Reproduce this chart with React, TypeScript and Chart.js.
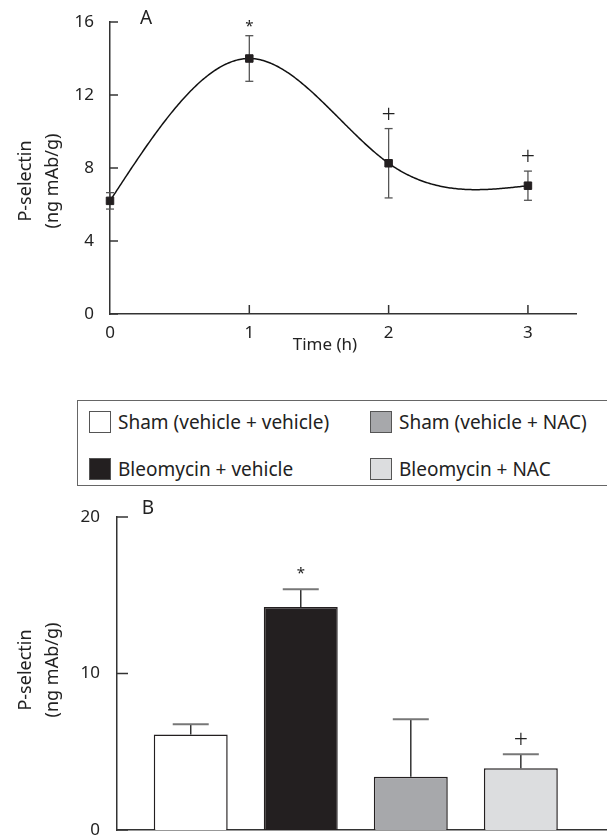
import React, { useEffect, useRef } from 'react';
import { Chart, registerables } from 'chart.js';

Chart.register(...registerables);

// ---------- data ----------
const timeHours = [0, 1, 2, 3];
const selectinA = [6.2, 14.0, 8.26, 7.03];
const semA = [0.45, 1.25, 1.9, 0.8];
const marksA = ['', '*', '+', '+'];
const yTicksA = [0, 4, 8, 12, 16];
const xTicksA = [0, 1, 2, 3];

const groupLabels = [
  'Sham (vehicle + vehicle)',
  'Bleomycin + vehicle',
  'Sham (vehicle + NAC)',
  'Bleomycin + NAC',
];
const groupPositions = [1, 2, 3, 4];
const selectinB = [6.1, 14.25, 3.4, 3.95];
const semB = [0.65, 1.13, 3.68, 0.89];
const marksB = ['', '*', '', '+'];
const yTicksB = [0, 10, 20];
const barColors = ['#ffffff', '#231f20', '#a7a8ab', '#dcdddf'];

const yTitleLines = ['P-selectin', '(ng mAb/g)'];
const xTitleA = 'Time (h)';

// ---------- style ----------
const FONT = '"Noto Sans", sans-serif';
const AXIS = '#333';
const TEXT = '#222';

function naturalSpline(xs: number[], ys: number[]) {
  const n = xs.length;
  const h: number[] = [];
  for (let i = 0; i < n - 1; i++) h.push(xs[i + 1] - xs[i]);
  const M = new Array(n).fill(0);
  const a: number[] = [], b: number[] = [], c: number[] = [], d: number[] = [];
  for (let i = 1; i < n - 1; i++) {
    a.push(h[i - 1]);
    b.push(2 * (h[i - 1] + h[i]));
    c.push(h[i]);
    d.push(6 * ((ys[i + 1] - ys[i]) / h[i] - (ys[i] - ys[i - 1]) / h[i - 1]));
  }
  const m = b.length;
  for (let i = 1; i < m; i++) {
    const w = a[i] / b[i - 1];
    b[i] -= w * c[i - 1];
    d[i] -= w * d[i - 1];
  }
  const sol = new Array(m).fill(0);
  for (let i = m - 1; i >= 0; i--) {
    sol[i] = (d[i] - (i < m - 1 ? c[i] * sol[i + 1] : 0)) / b[i];
  }
  for (let i = 0; i < m; i++) M[i + 1] = sol[i];
  return (x: number) => {
    let i = 0;
    while (i < n - 2 && x > xs[i + 1]) i++;
    const hh = h[i];
    const A = (xs[i + 1] - x) / hh;
    const B = (x - xs[i]) / hh;
    return A * ys[i] + B * ys[i + 1] + ((A * A * A - A) * M[i] + (B * B * B - B) * M[i + 1]) * hh * hh / 6;
  };
}

function line(ctx: CanvasRenderingContext2D, x1: number, y1: number, x2: number, y2: number) {
  ctx.beginPath();
  ctx.moveTo(x1, y1);
  ctx.lineTo(x2, y2);
  ctx.stroke();
}

function drawYTitle(ctx: CanvasRenderingContext2D, cy: number) {
  ctx.save();
  ctx.fillStyle = TEXT;
  ctx.font = `18px ${FONT}`;
  ctx.textAlign = 'center';
  ctx.textBaseline = 'middle';
  const xs = [26, 53];
  yTitleLines.forEach((t, i) => {
    ctx.save();
    ctx.translate(xs[i], cy);
    ctx.rotate(-Math.PI / 2);
    ctx.fillText(t, 0, 0);
    ctx.restore();
  });
  ctx.restore();
}

function drawMark(ctx: CanvasRenderingContext2D, mark: string, x: number, yTop: number, gap: number) {
  if (!mark) return;
  ctx.save();
  ctx.fillStyle = TEXT;
  ctx.textAlign = 'center';
  ctx.textBaseline = 'middle';
  if (mark === '*') {
    ctx.font = `15px ${FONT}`;
    ctx.fillText('*', x, yTop - gap + 3);
  } else {
    ctx.font = `300 25px ${FONT}`;
    ctx.fillText('+', x, yTop - 13);
  }
  ctx.restore();
}

const panelAPlugin = {
  id: 'panelA',
  beforeDatasetsDraw(chart: any) {
    const { ctx, chartArea } = chart;
    const x = chart.scales.x;
    const y = chart.scales.y;
    ctx.save();
    ctx.strokeStyle = AXIS;
    ctx.lineWidth = 1.5;
    y.ticks.forEach((t: any) => {
      const py = y.getPixelForValue(t.value);
      line(ctx, chartArea.left, py, chartArea.left + 8, py);
    });
    x.ticks.forEach((t: any) => {
      if (t.value === 0) return;
      const px = x.getPixelForValue(t.value);
      line(ctx, px, chartArea.bottom, px, chartArea.bottom - 9);
    });
    // error bars
    ctx.strokeStyle = '#555';
    ctx.lineWidth = 1.3;
    timeHours.forEach((t, i) => {
      const px = x.getPixelForValue(t);
      const top = y.getPixelForValue(selectinA[i] + semA[i]);
      const bot = y.getPixelForValue(selectinA[i] - semA[i]);
      line(ctx, px, top, px, bot);
      line(ctx, px - 4, top, px + 4, top);
      line(ctx, px - 4, bot, px + 4, bot);
    });
    // smooth curve through the means (natural cubic spline)
    const f = naturalSpline(timeHours, selectinA);
    const x0 = timeHours[0];
    const x1 = timeHours[timeHours.length - 1];
    ctx.strokeStyle = '#111';
    ctx.lineWidth = 1.5;
    ctx.beginPath();
    const steps = 300;
    for (let k = 0; k <= steps; k++) {
      const xv = x0 + ((x1 - x0) * k) / steps;
      const px = x.getPixelForValue(xv);
      const py = y.getPixelForValue(f(xv));
      if (k === 0) ctx.moveTo(px, py);
      else ctx.lineTo(px, py);
    }
    ctx.stroke();
    ctx.restore();
  },
  afterDatasetsDraw(chart: any) {
    const { ctx, chartArea } = chart;
    const x = chart.scales.x;
    const y = chart.scales.y;
    timeHours.forEach((t, i) => {
      drawMark(ctx, marksA[i], x.getPixelForValue(t), y.getPixelForValue(selectinA[i] + semA[i]), 12);
    });
    ctx.save();
    ctx.fillStyle = TEXT;
    ctx.font = `19px ${FONT}`;
    ctx.textAlign = 'center';
    ctx.textBaseline = 'middle';
    ctx.fillText('A', chartArea.left + 36, chartArea.top - 3);
    ctx.font = `17px ${FONT}`;
    const cx = (x.getPixelForValue(timeHours[0]) + x.getPixelForValue(timeHours[timeHours.length - 1])) / 2 + 6;
    ctx.fillText(xTitleA, cx, 345);
    ctx.restore();
    drawYTitle(ctx, 181);
  },
};

const panelBPlugin = {
  id: 'panelB',
  beforeDatasetsDraw(chart: any) {
    const { ctx, chartArea } = chart;
    const y = chart.scales.y;
    ctx.save();
    ctx.strokeStyle = AXIS;
    ctx.lineWidth = 1.5;
    y.ticks.forEach((t: any) => {
      const py = y.getPixelForValue(t.value);
      line(ctx, chartArea.left, py, chartArea.left + 11, py);
    });
    ctx.restore();
  },
  afterDatasetsDraw(chart: any) {
    const { ctx, chartArea } = chart;
    const x = chart.scales.x;
    const y = chart.scales.y;
    ctx.save();
    groupPositions.forEach((g, i) => {
      const px = x.getPixelForValue(g);
      const base = y.getPixelForValue(selectinB[i]);
      const top = y.getPixelForValue(selectinB[i] + semB[i]);
      ctx.strokeStyle = '#333';
      ctx.lineWidth = 1.5;
      line(ctx, px, base, px, top);
      ctx.strokeStyle = '#777';
      ctx.lineWidth = 2;
      line(ctx, px - 18, top, px + 18, top);
      drawMark(ctx, marksB[i], px, top, 19);
    });
    ctx.fillStyle = TEXT;
    ctx.font = `19px ${FONT}`;
    ctx.textAlign = 'center';
    ctx.textBaseline = 'middle';
    ctx.fillText('B', chartArea.left + 31, chartArea.top - 8);
    ctx.restore();
    drawYTitle(ctx, 180);
  },
};

const W = 607;
const HA = 370;
const HB = 348;

function PanelA() {
  const ref = useRef<HTMLCanvasElement>(null);
  useEffect(() => {
    const chart = new Chart(ref.current as HTMLCanvasElement, {
      type: 'line',
      data: {
        datasets: [
          {
            data: timeHours.map((t, i) => ({ x: t, y: selectinA[i] })),
            showLine: false,
            pointStyle: 'rect',
            pointRadius: 5.3,
            pointBorderWidth: 1,
            backgroundColor: '#231f20',
            borderColor: '#231f20',
            clip: false,
          } as any,
        ],
      },
      options: {
        responsive: false,
        animation: false,
        events: [],
        layout: { padding: { top: 22, right: 31, left: 0, bottom: 0 } },
        plugins: { legend: { display: false }, tooltip: { enabled: false } },
        scales: {
          x: {
            type: 'linear',
            min: 0,
            max: 3.345,
            grid: { display: false },
            border: { display: true, color: AXIS, width: 1.5 },
            ticks: { color: TEXT, font: { family: FONT, size: 17 }, padding: 1, maxRotation: 0 },
            afterBuildTicks: (s: any) => {
              s.ticks = xTicksA.map((v) => ({ value: v }));
            },
            afterFit: (s: any) => {
              s.height = HA - 314;
              s.paddingLeft = 0;
              s.paddingRight = 0;
            },
          },
          y: {
            min: 0,
            max: 16,
            grid: { display: false },
            border: { display: true, color: AXIS, width: 1.5 },
            ticks: { color: TEXT, font: { family: FONT, size: 17 }, padding: 8 },
            afterBuildTicks: (s: any) => {
              s.ticks = yTicksA.map((v) => ({ value: v }));
            },
            afterFit: (s: any) => {
              s.width = 110;
              s.paddingTop = 0;
              s.paddingBottom = 0;
            },
          },
        },
      } as any,
      plugins: [panelAPlugin],
    });
    return () => chart.destroy();
  }, []);
  return <canvas ref={ref} width={W} height={HA} style={{ position: 'absolute', left: 0, top: 0, width: W, height: HA }} />;
}

function PanelB() {
  const ref = useRef<HTMLCanvasElement>(null);
  useEffect(() => {
    const chart = new Chart(ref.current as HTMLCanvasElement, {
      type: 'bar',
      data: {
        datasets: [
          {
            data: groupPositions.map((g, i) => ({ x: g, y: selectinB[i] })),
            backgroundColor: barColors,
            borderColor: '#231f20',
            borderWidth: 1.5,
            barPercentage: 0.672,
            categoryPercentage: 1,
          } as any,
        ],
      },
      options: {
        responsive: false,
        animation: false,
        events: [],
        layout: { padding: { top: 27, right: 1, left: 0, bottom: 0 } },
        plugins: { legend: { display: false }, tooltip: { enabled: false } },
        scales: {
          x: {
            type: 'linear',
            offset: false,
            min: 0.33,
            max: 4.774,
            grid: { display: false },
            border: { display: true, color: AXIS, width: 1.5 },
            ticks: { display: false },
            afterBuildTicks: (s: any) => {
              s.ticks = groupPositions.map((v) => ({ value: v }));
            },
            afterFit: (s: any) => {
              s.height = HB - 340;
              s.paddingLeft = 0;
              s.paddingRight = 0;
            },
          },
          y: {
            min: 0,
            max: 20,
            grid: { display: false },
            border: { display: true, color: AXIS, width: 1.5 },
            ticks: { color: TEXT, font: { family: FONT, size: 17 }, padding: 9 },
            afterBuildTicks: (s: any) => {
              s.ticks = yTicksB.map((v) => ({ value: v }));
            },
            afterFit: (s: any) => {
              s.width = 117;
              s.paddingTop = 0;
              s.paddingBottom = 0;
            },
          },
        },
      } as any,
      plugins: [panelBPlugin],
    });
    return () => chart.destroy();
  }, []);
  return <canvas ref={ref} width={W} height={HB} style={{ position: 'absolute', left: 0, top: 490, width: W, height: HB }} />;
}

function Legend() {
  const positions = [
    { sx: 89, sy: 411 },
    { sx: 89, sy: 458 },
    { sx: 370, sy: 411 },
    { sx: 370, sy: 458 },
  ];
  return (
    <div>
      <div
        style={{
          position: 'absolute',
          left: 77,
          top: 400,
          width: 560,
          height: 86,
          border: '1.5px solid #666',
          boxSizing: 'border-box',
        }}
      />
      {groupLabels.map((label, i) => (
        <div key={label}>
          <div
            style={{
              position: 'absolute',
              left: positions[i].sx,
              top: positions[i].sy,
              width: 22,
              height: 22,
              boxSizing: 'border-box',
              border: '1px solid #555',
              background: barColors[i],
            }}
          />
          <div
            style={{
              position: 'absolute',
              left: positions[i].sx + 29,
              top: positions[i].sy - 1,
              height: 24,
              lineHeight: '24px',
              fontFamily: FONT,
              fontSize: 19,
              color: TEXT,
              whiteSpace: 'nowrap',
            }}
          >
            {label}
          </div>
        </div>
      ))}
    </div>
  );
}

export default function App() {
  return (
    <div
      style={{
        position: 'absolute',
        left: 0,
        top: 0,
        width: W,
        height: 838,
        background: '#fff',
        overflow: 'hidden',
      }}
    >
      <PanelA />
      <Legend />
      <PanelB />
    </div>
  );
}
